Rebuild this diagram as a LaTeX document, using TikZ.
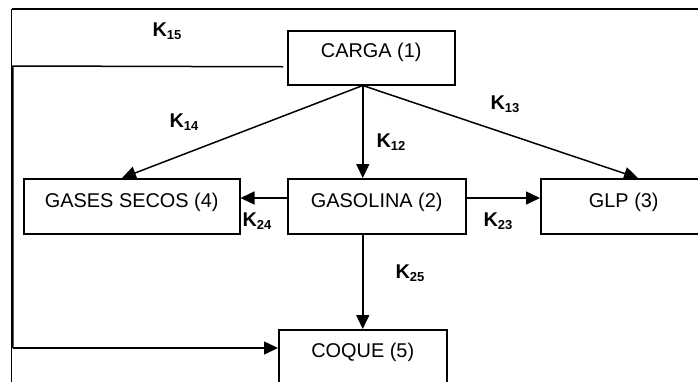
\documentclass[tikz,border=0pt]{standalone}
\usepackage{fontspec}
\setmainfont{Liberation Sans}
\usetikzlibrary{arrows.meta}
\newcommand{\kname}[1]{\textbf{K}\raisebox{-3pt}{\fontsize{13}{14}\selectfont\bfseries #1}}
\begin{document}
\begin{tikzpicture}[x=1pt,y=-1pt,
  box/.style={draw,line width=1.5pt,inner sep=0pt,anchor=north west,align=center,
    font=\fontsize{19.9}{23}\selectfont},
  klabel/.style={inner sep=0pt,font=\fontsize{19.9}{23}\selectfont},
  arr/.style={line width=1.5pt,-{Triangle[length=14pt,width=13pt]}},
  ln/.style={line width=1.5pt}]
\useasboundingbox (0,0) rectangle (698,381);
\clip (0,0) rectangle (698,381);
% outer frame
\draw[ln] (11.5,9) -- (720,9);
\draw[ln] (11.5,9) -- (11.5,400);
% boxes
\node[box,minimum width=167pt,text height=27pt,text depth=27pt] (carga) at (287,30) {CARGA (1)};
\node[box,minimum width=216pt,text height=29pt,text depth=26pt] (gases) at (23,178) {GASES SECOS (4)};
\node[box,minimum width=178pt,text height=29pt,text depth=26pt] (gasolina) at (287,178) {GASOLINA (2)};
\node[box,minimum width=166pt,text height=29pt,text depth=26pt] (glp) at (540,178) {GLP (3)};
\node[box,minimum width=168pt,text height=28pt,text depth=40pt] (coque) at (278,329) {COQUE (5)};
% connectors
\coordinate (k15a) at (12.8,66);
\coordinate (k15b) at (12.8,348);
\draw[ln] ([shift={(-4pt,-9pt)}]carga.west) -- (k15a) -- (k15b);
\draw[arr] (k15b) -- ([yshift=-19pt]coque.north west);
\draw[arr] (carga.south -| coque.north) -- (gasolina.north -| coque.north);
\draw[arr] (carga.south -| coque.north) -- ([xshift=99pt]gases.north west);
\draw[arr] (carga.south -| coque.north) -- ([xshift=98pt]glp.north west);
\draw[arr] ([yshift=-20pt]gasolina.north west) -- ([yshift=-20pt]gases.north east);
\draw[arr] ([yshift=-20pt]gasolina.north east) -- ([yshift=-20pt]glp.north west);
\draw[arr] (gasolina.south -| coque.north) -- (coque.north);
% labels
\node[klabel] (k15) at (167,31) {\kname{15}};
\node[klabel] (k14) at (184,122) {\kname{14}};
\node[klabel] (k12) at (391,142) {\kname{12}};
\node[klabel] (k13) at (505,104) {\kname{13}};
\node[klabel] (k24) at (257,221) {\kname{24}};
\node[klabel] (k23) at (498,221) {\kname{23}};
\node[klabel] (k25) at (410,273) {\kname{25}};
\end{tikzpicture}
\end{document}
